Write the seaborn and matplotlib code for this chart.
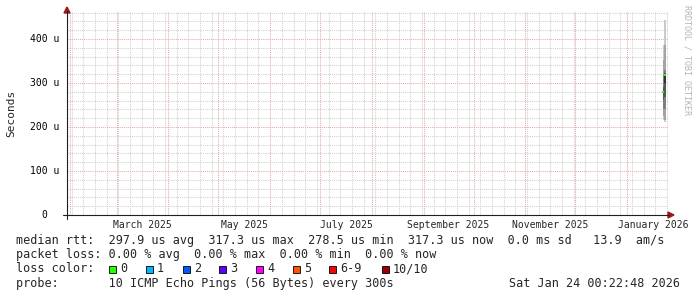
import matplotlib
matplotlib.use("Agg")
import matplotlib.pyplot as plt
import matplotlib.dates as mdates
import matplotlib.transforms as mtransforms
from matplotlib.patches import Polygon, Rectangle
from matplotlib.lines import Line2D
import numpy as np
import pandas as pd
import seaborn as sns

# ---------------- data ----------------
sample_times = ["2026-01-22 20:00", "2026-01-23 22:00"]
# 10 sorted ping rtts per sample, in microseconds
pings_a = [216, 226, 240, 262, 277, 280, 292, 318, 352, 386]
pings_b = [211, 216, 240, 268, 300, 318, 323, 330, 386, 443]
median_rtt = [278.5, 317.3]

y_ticks = [0, 100, 200, 300, 400]
y_tick_labels = ["0", "100 u", "200 u", "300 u", "400 u"]
month_labels = ["March 2025", "May 2025", "July 2025", "September 2025",
                "November 2025", "January 2026"]
month_label_starts = ["2025-03-01", "2025-05-01", "2025-07-01", "2025-09-01",
                      "2025-11-01", "2026-01-01"]

legend_rtt = "median rtt:  297.9 us avg  317.3 us max  278.5 us min  317.3 us now  0.0 ms sd   13.9  am/s"
legend_loss = "packet loss: 0.00 % avg  0.00 % max  0.00 % min  0.00 % now"
loss_labels = ["0", "1", "2", "3", "4", "5", "6-9", "10/10"]
loss_colors = ["#26ff00", "#00b8ff", "#0059ff", "#5e00ff", "#ff00ff",
               "#ff5500", "#ff0000", "#a10000"]
probe_text = "probe:       10 ICMP Echo Pings (56 Bytes) every 300s"
date_text = "Sat Jan 24 00:22:48 2026"

# ---------------- figure ----------------
W, H = 697, 297
sns.set_style("white")
plt.rcParams["font.family"] = ["DejaVu Sans Mono", "DejaVu Sans"]

fig = plt.figure(figsize=(W / 100, H / 100), dpi=100)
fig.patch.set_facecolor("white")

def fx(px):
    return px / W

def fy(py):
    return 1 - py / H

ax = fig.add_axes([fx(67), fy(215), (668 - 67) / W, (215 - 12) / H])
ax.set_facecolor("white")

x0 = mdates.date2num(pd.Timestamp("2025-01-30 04:00"))
x1 = mdates.date2num(pd.Timestamp("2026-01-25 14:00"))

# grid
majors = [mdates.date2num(d) for d in pd.date_range("2025-02-01", "2026-01-01", freq="MS")]
minors = [mdates.date2num(d) for d in pd.date_range("2025-02-02", "2026-01-25", freq="W-SUN")]

# smoke
grays = ["#cacaca", "#a4a4a4", "#7e7e7e", "#585858", "#323232"]
xs = [mdates.date2num(pd.Timestamp(t)) for t in sample_times]
for xv, p in zip(xs, [pings_a, pings_b]):
    for i in range(5):
        lo, hi = p[i], p[9 - i]
        ax.bar(xv, hi - lo, bottom=lo, width=0.9, color=grays[i], linewidth=0, zorder=3)

med_df = pd.DataFrame({"t": xs, "rtt": median_rtt})
sns.scatterplot(data=med_df, x="t", y="rtt", marker="s", s=3, color="#26ff00",
                linewidth=0, ax=ax, zorder=4, legend=False)
ax.set_xlabel("")
ax.set_ylabel("")
ax.set_xlim(x0, x1)
ax.set_ylim(0, 461.4)

ax.set_xticks(majors)
ax.set_xticks(minors, minor=True)
ax.set_yticks(y_ticks[1:])
ax.set_yticks([v for v in range(20, 461, 20) if v % 100 != 0], minor=True)
ax.grid(which="minor", color="#d0d0d0", linestyle=(0, (1, 1)), linewidth=0.75)
ax.grid(which="major", color="#e8aaaa", linestyle=(0, (1, 1)), linewidth=0.75)
ax.set_axisbelow(True)
ax.tick_params(which="both", length=0, labelbottom=False, labelleft=False)
for s in ax.spines.values():
    s.set_visible(False)

# axes lines and arrows
axis_color = "#202020"
fig.add_artist(Line2D([fx(67), fx(67)], [fy(219), fy(11)], color=axis_color, lw=0.8))
fig.add_artist(Line2D([fx(63), fx(669)], [fy(215), fy(215)], color=axis_color, lw=0.8))
arrow_c = "#a01818"
fig.add_artist(Polygon([[fx(668), fy(212)], [fx(674), fy(215)], [fx(668), fy(218)]],
                       closed=True, color=arrow_c, transform=fig.transFigure))
fig.add_artist(Polygon([[fx(64), fy(13)], [fx(67), fy(7)], [fx(70), fy(13)]],
                       closed=True, color=arrow_c, transform=fig.transFigure))

# y tick labels
ytrans = mtransforms.blended_transform_factory(fig.transFigure, ax.transData)
for v, lab in zip(y_ticks, y_tick_labels):
    fig.text(fx(44.5), v, lab, transform=ytrans, ha="center", va="center",
             fontsize=7, color="#000000", family="DejaVu Sans Mono")

# x labels (mid-month)
xtrans = mtransforms.blended_transform_factory(ax.transData, fig.transFigure)
for lab, st in zip(month_labels, month_label_starts):
    s = pd.Timestamp(st)
    e = s + pd.offsets.MonthBegin(1)
    mid = mdates.date2num(s + (e - s) / 2)
    fig.text(mid, fy(228.5), lab, transform=xtrans, ha="center", va="baseline",
             fontsize=7, family="DejaVu Sans Mono")

fig.text(fx(11), fy(113), "Seconds", rotation=90, ha="center", va="center",
         fontsize=8, family="DejaVu Sans Mono")
fig.text(fx(687), fy(60), "RRDTOOL / TOBI OETIKER", rotation=270, ha="center",
         va="center", fontsize=6, color="#b4b4b4", family="DejaVu Sans Mono")

# legend rows
fs = 8.5
fig.text(fx(16), fy(244), legend_rtt, ha="left", va="baseline", fontsize=fs)
fig.text(fx(16), fy(258.2), legend_loss, ha="left", va="baseline", fontsize=fs)
fig.text(fx(16), fy(272.4), "loss color:", ha="left", va="baseline", fontsize=fs)
box_x = [109, 146, 183, 219, 256, 293, 329, 382]
for bx, lab, col in zip(box_x, loss_labels, loss_colors):
    fig.add_artist(Rectangle((fx(bx), fy(272.5)), 7 / W, 6.5 / H, facecolor=col,
                             edgecolor="black", linewidth=0.6, transform=fig.transFigure))
    fig.text(fx(bx + 11), fy(272.4), lab, ha="left", va="baseline", fontsize=fs)
fig.text(fx(16), fy(286.6), probe_text, ha="left", va="baseline", fontsize=fs)
fig.text(fx(680), fy(286.6), date_text, ha="right", va="baseline", fontsize=fs)

fig.savefig("out.png", dpi=100, facecolor="white")
